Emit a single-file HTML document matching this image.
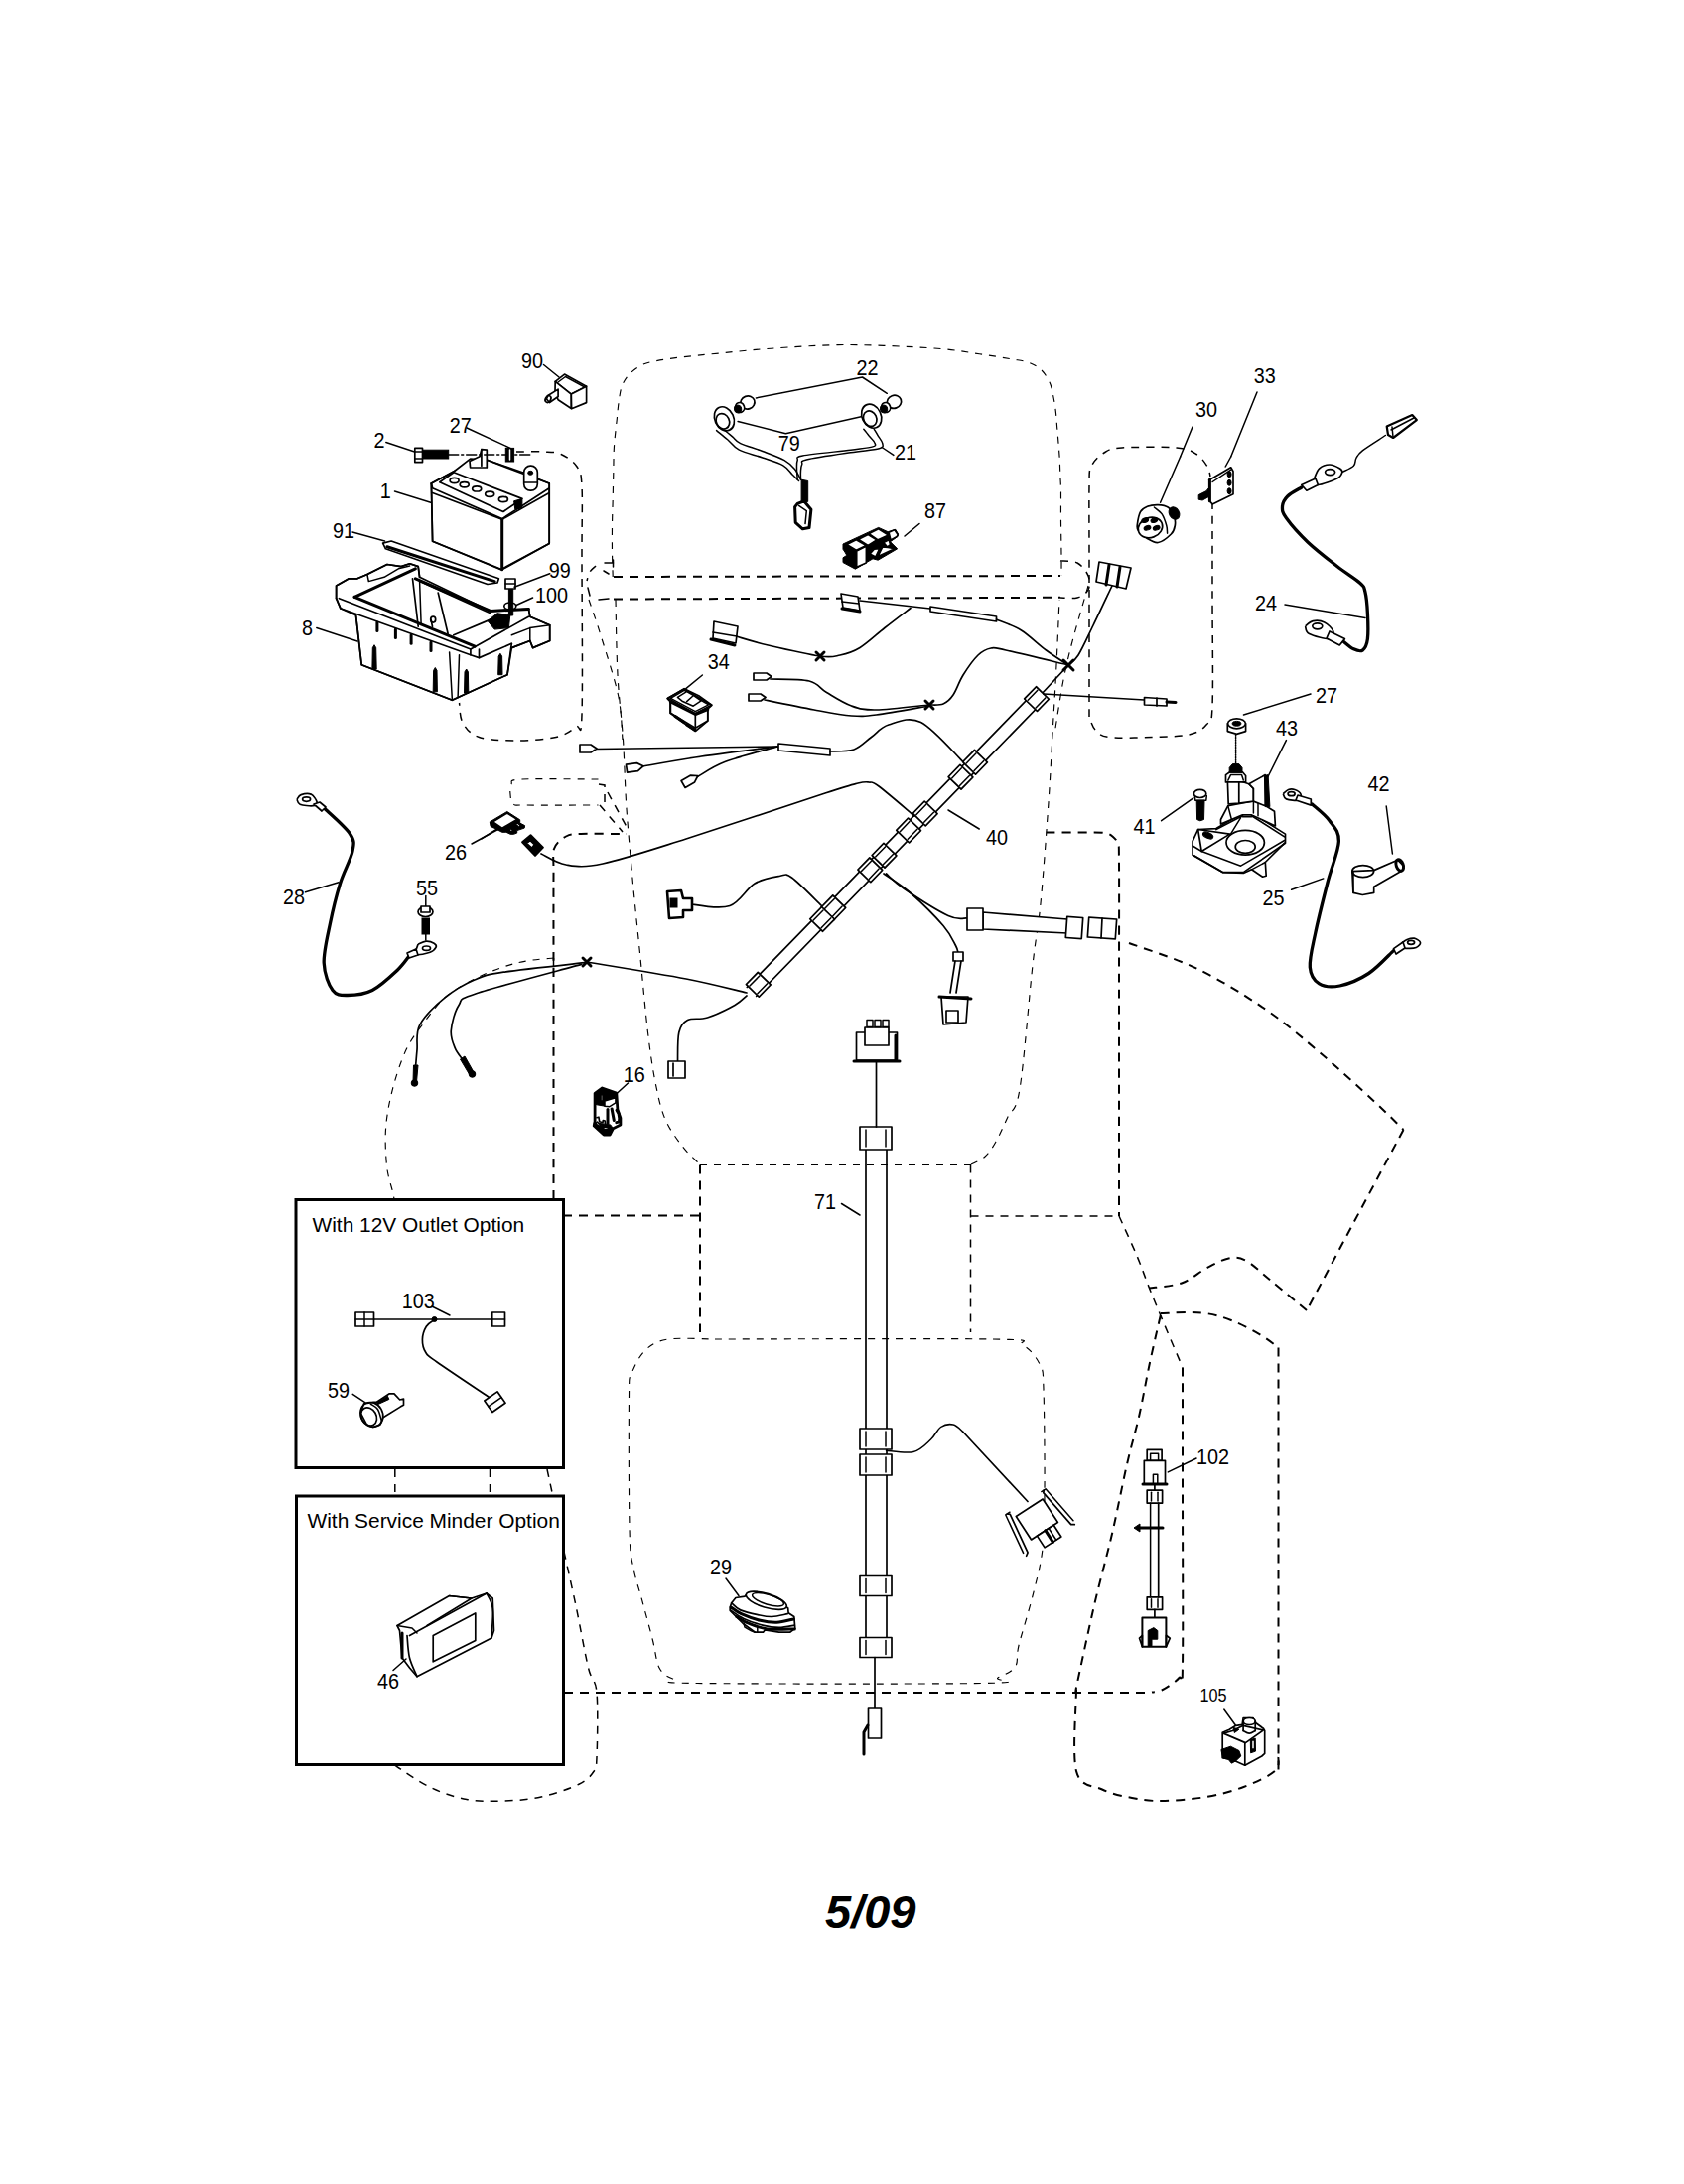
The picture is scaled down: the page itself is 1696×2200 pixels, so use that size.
<!DOCTYPE html>
<html><head><meta charset="utf-8"><style>
html,body{margin:0;padding:0;background:#fff;}
body{width:1696px;height:2200px;overflow:hidden;}
svg{display:block;}
.l{fill:none;stroke:#000;stroke-width:1.7;stroke-linejoin:round;stroke-linecap:round;}
.lt{fill:none;stroke:#000;stroke-width:1.5;stroke-linejoin:round;stroke-linecap:round;}
.lk{fill:none;stroke:#000;stroke-width:3;stroke-linejoin:round;stroke-linecap:round;}
.lc{fill:none;stroke:#000;stroke-width:3.3;stroke-linejoin:round;stroke-linecap:round;}
.w{fill:#fff;stroke:#000;stroke-width:1.7;stroke-linejoin:round;}
.wt{fill:#fff;stroke:#000;stroke-width:1.5;stroke-linejoin:round;}
.f{fill:#000;stroke:#000;stroke-width:1;}
.d{fill:none;stroke:#000;stroke-width:1.5;stroke-dasharray:8 7;}
.dt{fill:none;stroke:#000;stroke-width:1.15;stroke-dasharray:7 7;}
.dk{fill:none;stroke:#000;stroke-width:2;stroke-dasharray:9 7;}
.bx{fill:none;stroke:#000;stroke-width:3;}
.t{font-family:"Liberation Sans",sans-serif;font-size:22px;fill:#000;}
.ts{font-family:"Liberation Sans",sans-serif;font-size:18px;fill:#000;}
.tb{font-family:"Liberation Sans",sans-serif;font-size:20.9px;fill:#000;}
.big{font-family:"Liberation Sans",sans-serif;font-size:47px;font-weight:bold;font-style:italic;fill:#000;}
</style></head><body>
<svg width="1696" height="2200" viewBox="0 0 1696 2200">
<text class="t" transform="translate(525,370.5) scale(0.9,1)">90</text>
<text class="t" transform="translate(862.5,378) scale(0.9,1)">22</text>
<text class="t" transform="translate(1262.8,385.5) scale(0.9,1)">33</text>
<text class="t" transform="translate(1204,419.5) scale(0.9,1)">30</text>
<text class="t" transform="translate(376.5,450.5) scale(0.9,1)">2</text>
<text class="t" transform="translate(452.8,435.5) scale(0.9,1)">27</text>
<text class="t" transform="translate(783.8,454.2) scale(0.9,1)">79</text>
<text class="t" transform="translate(901,463) scale(0.9,1)">21</text>
<text class="t" transform="translate(382.8,501.8) scale(0.9,1)">1</text>
<text class="t" transform="translate(335,541.5) scale(0.9,1)">91</text>
<text class="t" transform="translate(931,521.5) scale(0.9,1)">87</text>
<text class="t" transform="translate(552.8,581.5) scale(0.9,1)">99</text>
<text class="t" transform="translate(539,606.5) scale(0.9,1)">100</text>
<text class="t" transform="translate(1264,614.5) scale(0.9,1)">24</text>
<text class="t" transform="translate(304,639.5) scale(0.9,1)">8</text>
<text class="t" transform="translate(712.8,674.2) scale(0.9,1)">34</text>
<text class="t" transform="translate(1325,708) scale(0.9,1)">27</text>
<text class="t" transform="translate(1285,740.5) scale(0.9,1)">43</text>
<text class="t" transform="translate(1377.5,797) scale(0.9,1)">42</text>
<text class="t" transform="translate(1141.6,839.6) scale(0.9,1)">41</text>
<text class="t" transform="translate(993,850.5) scale(0.9,1)">40</text>
<text class="t" transform="translate(448,865.5) scale(0.9,1)">26</text>
<text class="t" transform="translate(419,901.5) scale(0.9,1)">55</text>
<text class="t" transform="translate(285,910.5) scale(0.9,1)">28</text>
<text class="t" transform="translate(1271.5,911.5) scale(0.9,1)">25</text>
<text class="t" transform="translate(627.8,1089.5) scale(0.9,1)">16</text>
<text class="t" transform="translate(820,1218) scale(0.9,1)">71</text>
<text class="t" transform="translate(404.7,1318.2) scale(0.9,1)">103</text>
<text class="t" transform="translate(330,1407.5) scale(0.9,1)">59</text>
<text class="t" transform="translate(1205,1474.5) scale(0.9,1)">102</text>
<text class="t" transform="translate(715,1585.5) scale(0.9,1)">29</text>
<text class="t" transform="translate(380,1700.5) scale(0.9,1)">46</text>
<text class="ts" transform="translate(1208.5,1714) scale(0.9,1)">105</text>
<text class="tb" x="314.5" y="1241">With 12V Outlet Option</text>
<text class="tb" x="309.5" y="1538.5">With Service Minder Option</text>
<text class="big" x="831" y="1941.5">5/09</text>
<rect class="bx" x="298" y="1208.5" width="269.5" height="270"/>
<rect class="bx" x="298.5" y="1507" width="269" height="270.5"/>
<path class="dt" d="M617.2,581 C617.1,576.8 616.6,564.4 616.5,555.8 C616.4,547.2 616.4,538.1 616.5,529.2 C616.6,520.3 617,511.5 617.2,502.6 C617.4,493.7 617.6,484.9 617.8,476 C618,467.1 617.9,458.3 618.5,449.5 C619.1,440.7 620.4,430.5 621.2,423 C622,415.5 622.3,410.2 623.2,404.4 C624.1,398.6 624.6,393 626.5,388.4 C628.4,383.8 631.1,379.9 634.4,376.5 C637.7,373.1 642.2,369.9 646.4,367.8 C650.6,365.7 653.1,365.2 659.7,363.9 C666.3,362.6 675.2,361.2 686.2,359.9 C697.2,358.6 711,357.3 726,355.9 C741,354.4 755.2,352.6 776.5,351.2 C797.8,349.8 826.1,347.5 853.5,347.5 C880.9,347.5 918.9,349.5 941,351 C963.1,352.5 973.5,354.9 986.4,356.7 C999.3,358.5 1010.4,360.4 1018.5,361.8 C1026.6,363.2 1030.1,363.3 1035,365 C1039.9,366.7 1044.3,368.7 1048,372 C1051.7,375.3 1054.9,380.5 1057,385 C1059.1,389.5 1059.8,394.1 1060.8,399 C1061.8,403.9 1062.7,409.3 1063.3,414.4 C1063.9,419.5 1064.2,424.6 1064.6,429.7 C1065,434.8 1065.5,439.6 1065.9,445 C1066.3,450.4 1066.9,456.2 1067.2,461.8 C1067.5,467.4 1067.6,473.2 1067.8,478.5 C1068,483.8 1068.4,486.3 1068.5,493.8 C1068.6,501.3 1068.4,512.6 1068.5,523.3 C1068.6,534 1068.9,548.5 1069,558 C1069.1,567.5 1069,576.3 1069,580"/>
<line class="dk" x1="618" y1="581" x2="1068" y2="580"/>
<line class="dk" x1="618" y1="603.5" x2="1068" y2="601.8"/>
<polyline class="lt" points="609,567 617.5,567"/>
<line class="lt" x1="617.5" y1="564" x2="617.5" y2="571"/>
<path class="d" d="M600,570 C599,571 595.5,573.5 594,576 C592.5,578.5 591.5,583.5 591,585"/>
<line class="lt" x1="608" y1="575" x2="613" y2="578"/>
<line class="lt" x1="592" y1="592" x2="594" y2="600"/>
<line class="lt" x1="603" y1="604" x2="613" y2="603"/>
<path class="d" d="M1068,565 C1070.8,565.3 1080.3,564.5 1085,567 C1089.7,569.5 1094.2,575.5 1096,580 C1097.8,584.5 1097.8,590.3 1096,594 C1094.2,597.7 1089.7,600.7 1085,602 C1080.3,603.3 1070.8,602 1068,602"/>
<path class="dt" d="M620,604 C620.3,616.7 620.8,656.5 622,680 C623.2,703.5 626,722.5 627.5,745 C629,767.5 629.3,790.8 631,815 C632.7,839.2 635.2,865 637.5,890 C639.8,915 642.5,940 645,965 C647.5,990 650,1019.2 652.5,1040 C655,1060.8 657.1,1075.4 660,1090 C662.9,1104.6 665.4,1116.7 670,1127.5 C674.6,1138.3 681.7,1147.4 687.5,1155 C693.3,1162.6 702.1,1170 705,1173"/>
<path class="dt" d="M593,604 C595,610 600.1,624 605,640 C609.9,656 618.8,682.5 622.5,700 C626.2,717.5 626.2,737.5 627,745"/>
<line class="dt" x1="705" y1="1173.5" x2="978" y2="1173.5"/>
<path class="dt" d="M978,1173 C980.3,1171.7 987.8,1168.8 992,1165 C996.2,1161.2 999.2,1156.7 1003,1150 C1006.8,1143.3 1011,1133.8 1015,1125 C1019,1116.2 1022.8,1122.5 1027,1097 C1031.2,1071.5 1036.5,1003.2 1040,972 C1043.5,940.8 1045.3,937.3 1048,910 C1050.7,882.7 1054,836.3 1056,808 C1058,779.7 1058.8,761.3 1060,740 C1061.2,718.7 1062.3,702.7 1063.5,680 C1064.7,657.3 1066.4,616.7 1067,604"/>
<path class="dt" d="M1096,590 C1093.5,598.8 1085.2,626.7 1081,642.5 C1076.8,658.3 1074.2,668.8 1071,685 C1067.8,701.2 1063.5,730.8 1062,740"/>
<path class="d" d="M520,455 C524.5,455 539.5,454.6 547,455 C554.5,455.4 559.3,455 565,457.5 C570.7,460 577.5,464.6 581,470 C584.5,475.4 585.2,475 586,490 C586.8,505 586,521.7 586,560 C586,598.3 587,691.3 586,720 C585,748.7 584.3,728.2 580,732 C575.7,735.8 570,740.2 560,742.5 C550,744.8 532.9,746 520,746 C507.1,746 491.5,745.5 482.5,742.5 C473.5,739.5 469.3,733.8 466,728 C462.7,722.2 463.1,711.3 462.5,708"/>
<path class="d" d="M1097,722 C1097,695 1097,598.7 1097,560 C1097,521.3 1096.7,505 1097,490 C1097.3,475 1096.5,475.7 1099,470 C1101.5,464.3 1106.8,459.2 1112,456 C1117.2,452.8 1117.8,451.8 1130,451 C1142.2,450.2 1172.5,449.9 1185,451 C1197.5,452.1 1199.8,454.3 1205,457.5 C1210.2,460.7 1213.7,466.2 1216,470 C1218.3,473.8 1218.5,478.3 1219,480"/>
<path class="d" d="M1221,505 C1221,520.8 1221,565.5 1221,600 C1221,634.5 1222,690.3 1221,712 C1220,733.7 1218.9,725.3 1215,730 C1211.1,734.7 1206.7,737.9 1197.5,740 C1188.3,742.1 1173.4,742.1 1160,742.5 C1146.6,742.9 1126.5,743.8 1117,742.5 C1107.5,741.2 1106.3,738.4 1103,735 C1099.7,731.6 1098,724.2 1097,722"/>
<path class="dk" d="M557.5,1208 C557.5,1173.3 557.5,1054.7 557.5,1000 C557.5,945.3 557.4,904.2 557.5,880 C557.6,855.8 555.9,861.2 558,855 C560.1,848.8 565.5,845 570,842.5 C574.5,840 574.8,840.4 585,840 C595.2,839.6 623.3,840 631,840"/>
<path class="dk" d="M1053.6,838.5 C1059.7,838.5 1080.3,838.4 1090,838.5 C1099.7,838.6 1106.8,838.2 1112,839 C1117.2,839.8 1118.7,841 1121,843 C1123.3,845 1125,846.5 1126,851 C1127,855.5 1126.8,845.2 1127,870 C1127.2,894.8 1127,940.8 1127,1000 C1127,1059.2 1127,1187.5 1127,1225"/>
<line class="d" x1="977.5" y1="1225" x2="1127" y2="1225"/>
<line class="dk" x1="567" y1="1224.5" x2="705" y2="1224.5"/>
<path class="dt" d="M602.5,785 C589.6,785 539.6,784.2 525,785 C510.4,785.8 516.8,787.5 515,790 C513.2,792.5 513.7,796.7 514,800 C514.3,803.3 514.3,808.2 517,810 C519.7,811.8 515.8,810.8 530,811 C544.2,811.2 590.4,811 602.5,811"/>
<polyline class="d" points="603,790 609,791 609,809"/>
<line class="d" x1="612" y1="798" x2="633" y2="836.5"/>
<line class="d" x1="604" y1="811" x2="627" y2="838"/>
<path class="dt" d="M557.5,965 C552.9,965.5 538.4,966.5 530,968 C521.6,969.5 515.7,971 507,974 C498.3,977 487.7,981 478,986 C468.3,991 457.5,996.7 449,1004 C440.5,1011.3 433.7,1021.1 427,1030 C420.3,1038.9 414.2,1046.5 409,1057.6 C403.8,1068.7 398.9,1083.7 395.5,1096.8 C392.1,1109.9 389.6,1123 388.6,1136 C387.6,1149 388.5,1164.2 389.6,1175 C390.8,1185.8 394.3,1195.1 395.5,1200.6 C396.7,1206.1 396.8,1206.8 397,1208"/>
<line class="d" x1="557.5" y1="965" x2="557.5" y2="974"/>
<line class="d" x1="397.8" y1="1480" x2="397.8" y2="1507"/>
<line class="d" x1="493.5" y1="1480" x2="493.5" y2="1507"/>
<line class="d" x1="551" y1="1480" x2="556.8" y2="1507"/>
<path class="d" d="M568,1563 C570,1572.1 575.9,1598 580,1617.5 C584.1,1637 589,1665.4 592.5,1680 C596,1694.6 599.6,1690 601,1705 C602.4,1720 601.6,1756.7 601,1770 C600.4,1783.3 600.6,1780.4 597.5,1785 C594.4,1789.6 591.2,1793.3 582.5,1797.5 C573.8,1801.7 557.5,1807.2 545,1810 C532.5,1812.8 520,1813.6 507.5,1814 C495,1814.4 482.5,1814.8 470,1812.5 C457.5,1810.2 444.6,1805.8 432.5,1800 C420.4,1794.2 403.3,1781.7 397.5,1778"/>
<line class="dk" x1="568" y1="1705" x2="1160" y2="1705"/>
<path class="dt" d="M720,1349 C766.7,1349 948.3,1348 1000,1349 C1051.7,1350 1022.1,1350.7 1030,1355 C1037.9,1359.3 1044,1367.5 1047.5,1375 C1051,1382.5 1050.2,1379.2 1051,1400 C1051.8,1420.8 1052.2,1473.3 1052,1500 C1051.8,1526.7 1052,1542.1 1050,1560 C1048,1577.9 1044,1591.2 1040,1607.5 C1036,1623.8 1028.9,1645.6 1026,1657.5 C1023.1,1669.4 1026,1673.6 1022.5,1679 C1019,1684.4 1010.4,1687.2 1005,1690 C999.6,1692.8 1040.4,1694.6 990,1695.5 C939.6,1696.4 754.6,1696.2 702.5,1695.5 C650.4,1694.8 683.9,1693.6 677.5,1691 C671.1,1688.4 667.3,1686.4 664,1680 C660.7,1673.6 660.2,1663.3 657.5,1652.5 C654.8,1641.7 650.8,1627.5 647.5,1615 C644.2,1602.5 639.8,1590 637.5,1577.5 C635.2,1565 634.7,1568.4 634,1540 C633.3,1511.6 633.2,1433 633.5,1407 C633.8,1381 633.2,1391.8 636,1384 C638.8,1376.2 643.8,1365.8 650,1360 C656.2,1354.2 661.3,1350.8 673,1349 C684.7,1347.2 712.2,1349 720,1349"/>
<line class="dk" x1="705" y1="1173.5" x2="705" y2="1342"/>
<line class="d" x1="977.5" y1="1173.5" x2="977.5" y2="1342"/>
<path class="dk" d="M1137,950 C1148.5,954.3 1183,964.8 1206,976 C1229,987.2 1254.3,1002.8 1275,1017 C1295.7,1031.2 1311.7,1045.5 1330,1061 C1348.3,1076.5 1370.7,1097.2 1384.6,1110 C1398.5,1122.8 1408.7,1133.3 1413.5,1138"/>
<polyline class="dk" points="1413.5,1138 1316,1320"/>
<path class="dk" d="M1316,1320 C1310,1315 1290.2,1298.3 1280,1290 C1269.8,1281.7 1262.1,1273.8 1255,1270 C1247.9,1266.2 1244.2,1266.2 1237.5,1267.5 C1230.8,1268.8 1222.9,1273.3 1215,1277.5 C1207.1,1281.7 1199.6,1289.2 1190,1292.5 C1180.4,1295.8 1162.9,1296.7 1157.5,1297.5"/>
<path class="d" d="M1127,1225 C1130,1231.7 1139.9,1252.9 1145,1265 C1150.1,1277.1 1153.5,1287.5 1157.5,1297.5 C1161.5,1307.5 1163.2,1311.7 1168.8,1325 C1174.3,1338.3 1187.3,1368.8 1191,1377.5"/>
<path class="dk" d="M1191,1377.5 C1191,1397.9 1191,1450 1191,1500 C1191,1550 1191.6,1645.8 1191,1677.5 C1190.4,1709.2 1191,1685.8 1187.5,1690 C1184,1694.2 1174.6,1700.1 1170,1702.5 C1165.4,1704.9 1161.7,1704.2 1160,1704.5"/>
<path class="dk" d="M1168.8,1323 C1175.6,1322.9 1198.1,1321.3 1210,1322.5 C1221.9,1323.7 1230,1326.2 1240,1330 C1250,1333.8 1262.1,1340.4 1270,1345 C1277.9,1349.6 1284.6,1355.4 1287.5,1357.5"/>
<line class="dk" x1="1287.5" y1="1357.5" x2="1287.5" y2="1784"/>
<path class="dk" d="M1168.8,1325 C1166.9,1333.3 1161,1358.3 1157.5,1375 C1154,1391.7 1151.2,1408.3 1147.5,1425 C1143.8,1441.7 1139.6,1455 1135,1475 C1130.4,1495 1125.4,1521.7 1120,1545 C1114.6,1568.3 1108.3,1590 1102.5,1615 C1096.7,1640 1088.1,1680.5 1085,1695 C1081.9,1709.5 1084.2,1700.8 1084,1702"/>
<path class="dk" d="M1084,1702 C1084,1715.7 1079.7,1767.2 1084,1784 C1088.3,1800.8 1100.7,1798 1110,1802.5 C1119.3,1807 1130,1809.1 1140,1811 C1150,1812.9 1157.5,1814.2 1170,1814 C1182.5,1813.8 1201.2,1812.3 1215,1810 C1228.8,1807.7 1241,1804.3 1252.5,1800 C1264,1795.7 1278.2,1789 1284,1784 C1289.8,1779 1286.9,1772.3 1287.5,1770"/>
<line class="l" x1="1043.3" y1="695.5" x2="752.3" y2="994.5"/>
<line class="l" x1="1052.7" y1="704.5" x2="761.7" y2="1003.5"/>
<line class="l" x1="1076" y1="670" x2="1048" y2="700"/>
<rect class="w" x="1035.5" y="695.1" width="17" height="18" transform="rotate(134.2 1044 704.1)"/>
<line class="lt" x1="1044.9" y1="695.3" x2="1035.2" y2="705.3"/>
<line class="lt" x1="1052.8" y1="702.9" x2="1043.1" y2="713"/>
<rect class="w" x="973.5" y="758.8" width="17" height="18" transform="rotate(134.2 982 767.8)"/>
<line class="lt" x1="982.9" y1="758.9" x2="973.2" y2="769"/>
<line class="lt" x1="990.8" y1="766.6" x2="981" y2="776.6"/>
<rect class="w" x="959" y="773.7" width="17" height="18" transform="rotate(134.2 967.5 782.7)"/>
<line class="lt" x1="968.4" y1="773.8" x2="958.7" y2="783.9"/>
<line class="lt" x1="976.3" y1="781.5" x2="966.5" y2="791.5"/>
<rect class="w" x="923.2" y="810.5" width="17" height="18" transform="rotate(134.2 931.7 819.5)"/>
<line class="lt" x1="932.6" y1="810.6" x2="922.8" y2="820.7"/>
<line class="lt" x1="940.5" y1="818.3" x2="930.7" y2="828.3"/>
<rect class="w" x="906.6" y="827.5" width="17" height="18" transform="rotate(134.2 915.1 836.5)"/>
<line class="lt" x1="916" y1="827.6" x2="906.3" y2="837.7"/>
<line class="lt" x1="923.9" y1="835.3" x2="914.2" y2="845.3"/>
<rect class="w" x="882" y="852.7" width="17" height="18" transform="rotate(134.2 890.5 861.7)"/>
<line class="lt" x1="891.5" y1="852.9" x2="881.7" y2="862.9"/>
<line class="lt" x1="899.4" y1="860.5" x2="889.6" y2="870.6"/>
<rect class="w" x="867.8" y="867.3" width="17" height="18" transform="rotate(134.2 876.3 876.3)"/>
<line class="lt" x1="877.3" y1="867.5" x2="867.5" y2="877.5"/>
<line class="lt" x1="885.1" y1="875.1" x2="875.4" y2="885.2"/>
<rect class="w" x="830.8" y="905.3" width="17" height="18" transform="rotate(134.2 839.3 914.3)"/>
<line class="lt" x1="840.3" y1="905.5" x2="830.5" y2="915.5"/>
<line class="lt" x1="848.1" y1="913.1" x2="838.4" y2="923.2"/>
<rect class="w" x="819.6" y="916.9" width="17" height="18" transform="rotate(134.2 828.1 925.9)"/>
<line class="lt" x1="829" y1="917" x2="819.2" y2="927.1"/>
<line class="lt" x1="836.9" y1="924.7" x2="827.1" y2="934.7"/>
<rect class="w" x="755.3" y="982.8" width="17" height="18" transform="rotate(134.2 763.8 991.8)"/>
<line class="lt" x1="764.8" y1="983" x2="755" y2="993"/>
<line class="lt" x1="772.7" y1="990.7" x2="762.9" y2="1000.7"/>
<line class="l" x1="872" y1="1158" x2="872" y2="1650"/>
<line class="l" x1="893" y1="1158" x2="893" y2="1650"/>
<rect class="w" x="866" y="1135" width="32" height="23"/>
<line class="lt" x1="872" y1="1138" x2="872" y2="1155"/>
<line class="lt" x1="892" y1="1138" x2="892" y2="1155"/>
<rect class="w" x="866" y="1439" width="32" height="21"/>
<line class="lt" x1="872" y1="1442" x2="872" y2="1457"/>
<line class="lt" x1="892" y1="1442" x2="892" y2="1457"/>
<rect class="w" x="866" y="1465" width="32" height="21"/>
<line class="lt" x1="872" y1="1468" x2="872" y2="1483"/>
<line class="lt" x1="892" y1="1468" x2="892" y2="1483"/>
<rect class="w" x="866" y="1587.5" width="32" height="20"/>
<line class="lt" x1="872" y1="1590.5" x2="872" y2="1604.5"/>
<line class="lt" x1="892" y1="1590.5" x2="892" y2="1604.5"/>
<rect class="w" x="866" y="1649.5" width="32" height="20"/>
<line class="lt" x1="872" y1="1652.5" x2="872" y2="1666.5"/>
<line class="lt" x1="892" y1="1652.5" x2="892" y2="1666.5"/>
<line class="l" x1="882.5" y1="1070" x2="882.5" y2="1135"/>
<line class="l" x1="881" y1="1669.5" x2="881" y2="1721"/>
<rect class="w" x="874.5" y="1721" width="13" height="30"/>
<polyline class="lk" points="874,1738 870,1745 870,1767"/>
<polygon class="w" points="862.5,1040 903.5,1040 903.5,1068 862.5,1068"/>
<rect class="w" x="871" y="1035" width="24" height="18"/>
<rect class="wt" x="873" y="1027.5" width="6" height="7"/>
<rect class="wt" x="881" y="1027.5" width="6" height="7"/>
<rect class="wt" x="889" y="1027.5" width="6" height="7"/>
<line class="lk" x1="860" y1="1069" x2="906" y2="1069"/>
<line class="lk" x1="902" y1="1043" x2="902" y2="1068"/>
<path class="l" d="M545,860 C549.2,861.8 559.7,869.3 570,871 C580.3,872.7 586.8,874.3 607,870 C627.2,865.7 653.7,856.8 691,845 C728.3,833.2 802.2,808.3 831,799 C859.8,789.7 856.7,790.8 864,789 C871.3,787.2 871.5,787.5 875,788 C878.5,788.5 877.3,786.3 885,792 C892.7,797.7 915,817 921,822"/>
<line class="l" x1="601" y1="754.5" x2="783" y2="752"/>
<path class="l" d="M645,772.5 C654.2,770.9 677,766.4 700,763 C723,759.6 769.2,753.8 783,752"/>
<path class="l" d="M702.5,782.5 C707.1,780 716.6,772.6 730,767.5 C743.4,762.4 774.2,754.6 783,752"/>
<polygon class="w" points="784,749 836,754 836,761 784,756"/>
<path class="l" d="M836,757 C840,756.7 853.1,757.4 860,755 C866.9,752.6 871.7,746.7 877.5,742.5 C883.3,738.3 886.7,732.5 895,730 C903.3,727.5 915,721.2 927.5,727.5 C940,733.8 962.9,760.8 970,767.5"/>
<polygon class="w" points="584,750 595,750 601,754 595,758 584,758" transform="rotate(0 592 754)"/>
<polygon class="w" points="631,769 642,769 648,773 642,777 631,777" transform="rotate(-8 639 773)"/>
<polygon class="w" points="687,782 698,782 704,786 698,790 687,790" transform="rotate(-30 695 786)"/>
<polygon class="w" points="847,598 864,601 866,615 849,612"/>
<line class="l" x1="848" y1="606" x2="865" y2="608"/>
<line class="lk" x1="848" y1="613" x2="866" y2="616"/>
<line class="l" x1="866" y1="605" x2="937" y2="613"/>
<polygon class="w" points="937,611 1003.5,621 1003.5,626 937,616"/>
<path class="l" d="M1003.5,624 C1007.7,625.8 1020.2,629.8 1028.5,635 C1036.8,640.2 1045.6,649.2 1053.5,655 C1061.4,660.8 1072.2,667.5 1076,670"/>
<path class="l" d="M917,612.5 C912.7,615.8 899.5,625.8 891,632.5 C882.5,639.2 873.5,647.9 866,652.5 C858.5,657.1 852.7,658.6 846,660 C839.3,661.4 838.1,662.7 826,661 C813.9,659.3 787.7,653.3 773.5,650 C759.3,646.7 746.4,642.5 741,641"/>
<polygon class="w" points="719,626 743,631 741,648 718,643"/>
<line class="l" x1="718" y1="637" x2="742" y2="641"/>
<line class="lk" x1="716" y1="644" x2="740" y2="650"/>
<line class="lk" x1="822" y1="657" x2="830" y2="665"/>
<line class="lk" x1="822" y1="665" x2="830" y2="657"/>
<line class="lk" x1="932" y1="706" x2="940" y2="714"/>
<line class="lk" x1="932" y1="714" x2="940" y2="706"/>
<line class="lk" x1="1071" y1="665" x2="1081" y2="675"/>
<line class="lk" x1="1071" y1="675" x2="1081" y2="665"/>
<line class="lk" x1="587" y1="965" x2="595" y2="973"/>
<line class="lk" x1="587" y1="973" x2="595" y2="965"/>
<path class="l" d="M1076,670 C1065.5,667.5 1026,657.8 1013,655 C1000,652.2 1002.7,652.2 998,653 C993.3,653.8 989.7,655.5 985,660 C980.3,664.5 974.2,673.3 970,680 C965.8,686.7 963.3,695.2 960,700 C956.7,704.8 954,707.3 950,709 C946,710.7 938.3,709.8 936,710"/>
<path class="l" d="M936,710 C927.1,710.8 895.6,714.8 882.5,715 C869.4,715.2 865.8,713.9 857.5,711 C849.2,708.1 839.6,701.7 832.5,697.5 C825.4,693.3 824.4,688.2 815,686 C805.6,683.8 782.5,684.3 776,684"/>
<path class="l" d="M936,711 C927.1,712.5 895.6,718.3 882.5,720 C869.4,721.7 867.9,721.8 857.5,721 C847.1,720.2 834.6,717.7 820,715 C805.4,712.3 778.3,706.7 770,705"/>
<polygon class="w" points="759,678 772,678 777,681.5 772,685 759,685"/>
<polygon class="w" points="754,699 766,699 771,702.5 766,706 754,706"/>
<path class="l" d="M1076,670 C1077.7,668.3 1081.8,666.7 1086,660 C1090.2,653.3 1095.3,641.7 1101,630 C1106.7,618.3 1116.8,596.7 1120,590"/>
<polygon class="w" points="1107,566 1139,572 1134,593 1104,586"/>
<line class="lk" x1="1117" y1="569" x2="1114" y2="589"/>
<line class="lk" x1="1128" y1="571" x2="1125" y2="591"/>
<line class="l" x1="1051" y1="699" x2="1152.5" y2="705"/>
<polygon class="w" points="1152.5,702.5 1175,704 1175,711 1152.5,710"/>
<line class="l" x1="1165" y1="703" x2="1165" y2="711"/>
<line class="lk" x1="1175" y1="707" x2="1184" y2="707.5"/>
<path class="l" d="M591,969 C607.7,971.8 664.2,980.8 691,986 C717.8,991.2 741.8,997.7 752,1000"/>
<path class="l" d="M591.4,969.4 C577.4,971 526.1,976.3 507.2,979.2 C488.3,982.1 487.6,982.8 477.8,987 C468,991.2 457.5,997.2 448.4,1004.7 C439.2,1012.2 427.6,1023.3 422.9,1032.1 C418.2,1040.9 420.7,1050.4 420,1057.6 C419.3,1064.8 418.8,1072.1 418.5,1075"/>
<path class="l" d="M585.6,971.4 C568,976.3 500.3,993.9 479.7,1000.7 C459.1,1007.6 466.3,1006.3 462.1,1012.5 C457.9,1018.7 455,1030.8 454.3,1038 C453.6,1045.2 456.2,1050.7 458.2,1055.6 C460.1,1060.5 464.7,1065.4 466,1067.4"/>
<polygon class="f" points="416.5,1073 421,1073 419.5,1090 416,1090"/>
<ellipse class="f" cx="417.5" cy="1091" rx="3.3" ry="3.3"/>
<polygon class="f" points="463.5,1067 468,1064 477,1080 473,1083"/>
<ellipse class="f" cx="475.5" cy="1082" rx="3.3" ry="3.3"/>
<path class="l" d="M752,1003 C750,1004.6 746.6,1008.8 740,1012.5 C733.4,1016.2 720.4,1022.5 712.5,1025 C704.6,1027.5 697.3,1025 692.5,1027.5 C687.7,1030 685.4,1032.9 683.8,1040 C682.1,1047.1 682.7,1065 682.5,1070"/>
<rect class="w" x="673" y="1069" width="17" height="17"/>
<line class="l" x1="678" y1="1071" x2="678" y2="1084"/>
<path class="l" d="M691,905 C692.1,906 690.2,909.8 697.5,911 C704.8,912.2 724.6,916 735,912.5 C745.4,909 751.7,895 760,890 C768.3,885 778.8,883.5 785,882.5 C791.2,881.5 790.4,879 797.5,884 C804.6,889 822.5,907.8 827.5,912.5"/>
<polygon class="w" points="672,898 686,897 688,905 697,905 697,917 688,917 688,924 674,925" style="stroke-width:2.6"/>
<rect class="f" x="675" y="905" width="7" height="9"/>
<path class="l" d="M892.5,880 C895.4,882.5 899.6,887.9 910,895 C920.4,902.1 944.4,917.5 955,922.5 C965.6,927.5 970.6,924.6 973.8,925"/>
<polygon class="w" points="990,919 1075,926 1075,940 990,936"/>
<rect class="w" x="974" y="915" width="16" height="22"/>
<rect class="w" x="1074" y="924" width="16" height="21" transform="rotate(4 1082 934.5)"/>
<rect class="w" x="1096" y="925" width="28" height="20" transform="rotate(4 1110 935)"/>
<line class="l" x1="1110" y1="925" x2="1109" y2="945"/>
<path class="l" d="M890,880 C894.6,883.3 907.5,891.2 917.5,900 C927.5,908.8 942.5,923.8 950,932.5 C957.5,941.2 960,947.9 962.5,952.5 C965,957.1 964.6,958.8 965,960"/>
<rect class="w" x="960" y="959" width="10" height="9"/>
<polyline class="l" points="962,968 957,1000"/>
<polyline class="l" points="968,968 963,1000"/>
<polygon class="w" points="948,1004 975,1004 973,1030 950,1032"/>
<rect class="w" x="953" y="1018" width="12" height="12"/>
<line class="lk" x1="946" y1="1004" x2="978" y2="1006"/>
<polygon class="w" points="338.6,589.9 351.4,582.8 359.9,582.8 369.9,578.5 389.9,568.5 404.1,570.6 412.7,567.8 421.2,570.6 422.6,581.3 493.9,615.5 532.4,613.4 533.8,621.2 553.7,629.8 553.7,645.5 536.6,652.6 533.8,645.5 515.3,652.6 511,679.7 455.4,705.3 364.2,669.7 358.5,619.8 342.8,612.7 338.6,602.7"/>
<polyline class="l" points="338.6,602.7 338.6,589.9 351.4,582.8 359.9,582.8 369.9,578.5 389.9,568.5 404.1,570.6 412.7,567.8 421.2,570.6 422.6,581.3"/>
<polyline class="lt" points="369.9,578.5 371.3,585.6 387,581.3 401.3,572.8 412.7,569.9"/>
<polyline class="lk" points="418.4,582.8 493.9,615.5 532.4,613.4"/>
<polyline class="lt" points="422.6,585.6 493.9,617.7"/>
<polyline class="l" points="341.4,602.7 473.9,654 532.4,621.2"/>
<polyline class="l" points="342.8,612.7 473.9,659.7 482.5,662.6 515.3,648.3"/>
<polyline class="l" points="338.6,602.7 342.8,612.7"/>
<polyline class="l" points="473.9,654 473.9,659.7"/>
<polyline class="l" points="482.5,654 482.5,662.6"/>
<polyline class="l" points="532.4,613.4 533.8,621.2 553.7,629.8 553.7,645.5 536.6,652.6 533.8,645.5 515.3,652.6"/>
<polyline class="lt" points="515.3,639.8 533.8,632.6 553.7,629.8"/>
<polyline class="lt" points="533.8,632.6 533.8,645.5"/>
<polyline class="l" points="358.5,619.8 364.2,669.7 455.4,705.3 511,679.7 515.3,648.3"/>
<polyline class="lt" points="452.6,656.9 455.4,705.3"/>
<polyline class="lt" points="462.5,659.7 461.1,702.5"/>
<polyline class="lk" points="357.1,601.3 418.4,572.8"/>
<polyline class="lk" points="357.1,601.3 478.2,651.2"/>
<polyline class="l" points="415.5,582.8 421.2,631.2"/>
<polyline class="lt" points="422.6,585.6 424.1,628.4"/>
<polyline class="l" points="441.2,597 451.1,638.3"/>
<polyline class="l" points="456.8,639.8 493.9,624.1"/>
<polygon class="f" points="374.9,674 375.3,652.6 377,649.7 378.7,652.6 379.2,674"/>
<polygon class="f" points="436.2,696.8 436.6,675.4 438.3,672.5 440,675.4 440.4,696.8"/>
<polygon class="f" points="467.5,698.2 468,676.8 469.7,674 471.4,676.8 471.8,698.2"/>
<polygon class="f" points="501.7,679.7 502.2,661.1 503.9,658.3 505.6,661.1 506,679.7"/>
<polyline class="lk" points="379.9,626.9 379.9,635.5"/>
<polyline class="lk" points="398.4,634.1 398.4,642.6"/>
<polyline class="lk" points="414.1,639.8 414.1,648.3"/>
<polyline class="lk" points="434,646.9 434,655.4"/>
<polygon class="f" points="491,625.5 501,617.7 513.8,619.8 512.4,632.6 498.2,634.1"/>
<polyline class="l" points="434,624.1 435.5,631.2"/>
<ellipse class="l" cx="436.2" cy="624.1" rx="2.5" ry="3"/>
<polygon class="w" points="385.6,547.1 394.1,545 502.4,582.8 501,587 491,588.5 388.4,552.8"/>
<polyline class="lk" points="389.9,550.7 498.2,585.6"/>
<ellipse class="l" cx="513.8" cy="610.5" rx="6" ry="3.5"/>
<polygon class="f" points="512.4,592 516.7,592 516.7,620 512.4,620"/>
<rect class="w" x="509" y="583" width="10" height="10"/>
<line class="lt" x1="509" y1="588" x2="519" y2="588"/>
<line class="lt" x1="553.7" y1="577.8" x2="518.1" y2="591.3"/>
<line class="lt" x1="536.6" y1="602" x2="519.5" y2="609.8"/>
<line class="lt" x1="318.8" y1="632.5" x2="360" y2="646"/>
<line class="lt" x1="355" y1="536" x2="387.5" y2="545"/>
<polygon class="w" points="434.4,487 457.6,474.5 473.6,462.1 490.3,463.3 553.2,487 553.2,547.6 505.7,573.7 435.6,545.2"/>
<polyline class="l" points="434.4,487 435.6,545.2 504.5,573.7 553.2,547.6 553.2,487"/>
<polyline class="l" points="434.4,487 457.6,474.5"/>
<polyline class="l" points="490.3,463.3 527.7,476.3"/>
<polyline class="l" points="541.3,482.3 553.2,487"/>
<polyline class="l" points="434.4,487 435.6,491.8 505.7,522.6 553.2,491.8"/>
<polyline class="l" points="435.6,496.5 505.7,523.2 553.2,496.5"/>
<polyline class="lk" points="505.7,523.2 505.7,573.7"/>
<polygon class="l" points="442.8,485.8 457,475.7 525.9,502.4 506.9,515.5"/>
<polygon class="f" points="517.6,504.8 525.9,502.4 525.9,511.9 518.8,513.1"/>
<ellipse class="l" cx="457.6" cy="484" rx="4.5" ry="2.6"/>
<ellipse class="l" cx="467.7" cy="488.2" rx="4.5" ry="2.6"/>
<ellipse class="l" cx="480.2" cy="492.4" rx="4.5" ry="2.6"/>
<ellipse class="l" cx="493.2" cy="497.7" rx="4.5" ry="2.6"/>
<ellipse class="l" cx="506.9" cy="503" rx="4.5" ry="2.6"/>
<rect class="w" x="527.7" y="469.2" width="13.6" height="25" rx="6.5"/>
<ellipse class="f" cx="534.2" cy="476.3" rx="2.5" ry="2"/>
<line class="lt" x1="528" y1="486" x2="541" y2="486"/>
<polygon class="w" points="473,464.4 483.1,459.7 484.9,452.6 490.3,453.2 490.3,471 473.6,471"/>
<polyline class="l" points="484.9,452.6 484.9,469.2"/>
<rect class="w" x="417.8" y="451.4" width="7.7" height="14.2"/>
<line class="lt" x1="418" y1="455" x2="425" y2="455"/>
<line class="lt" x1="418" y1="462" x2="425" y2="462"/>
<rect class="f" x="425.5" y="453.2" width="26.2" height="8.8"/>
<line class="lt" x1="451.7" y1="457.9" x2="535" y2="457.9" stroke-dasharray="10 3 2 3"/>
<rect class="f" x="509.3" y="451.4" width="8.3" height="13.6"/>
<line class="lt" style="stroke:#fff" x1="513.5" y1="453" x2="513.5" y2="463"/>
<line class="lt" x1="470" y1="431" x2="514" y2="451.4"/>
<line class="lt" x1="388.8" y1="445.5" x2="417.5" y2="455"/>
<line class="lt" x1="397.5" y1="495" x2="433.8" y2="506.2"/>
<polygon class="w" points="559.2,384.3 568.5,377.1 590.6,389.2 575.3,397.1"/>
<polygon class="w" points="559.2,384.3 575.3,397.1 575.3,411.5 562.1,402.8 559,395"/>
<polygon class="w" points="575.3,397.1 590.6,389.2 590.6,405.6 575.6,411.7"/>
<polyline class="lt" points="562,385 569.5,379.5 588,389.5"/>
<polygon class="w" points="562.1,392.1 551.8,398.5 550.5,402 553.5,405.5 562.1,399.5"/>
<ellipse class="l" cx="552" cy="402" rx="2.6" ry="3.6" transform="rotate(30 552 402)"/>
<line class="lt" x1="547.5" y1="367.5" x2="563" y2="380"/>
<path class="lt" d="M721.6,433.6 C723.4,435.1 728.8,439.4 732.7,442.7 C736.5,446 738.5,450.1 744.4,453.2 C750.3,456.2 760.5,458.4 767.9,461 C775.3,463.6 783.8,466 788.8,468.8 C793.8,471.7 795.4,475.4 798,478 C800.6,480.6 803.4,483.4 804.5,484.5"/>
<path class="lt" d="M730,433.6 C731.4,434.6 735.3,437.9 737.9,440.1 C740.5,442.3 740.7,444.2 745.7,446.6 C750.7,449 760.5,451.6 767.9,454.5 C775.3,457.3 784.7,460.6 790.1,463.6 C795.6,466.7 797.9,469.5 800.6,472.7 C803.3,476 805.5,481.5 806.5,483.2"/>
<path class="lt" d="M869.8,432.3 C870.7,433.3 873.2,436.5 875,438.8 C876.9,441.1 880.3,444.1 880.9,446 C881.6,447.8 883,448.7 879,449.9 C874.9,451.1 868.5,451.6 856.8,453.2 C845,454.7 817.4,457.3 808.4,459 C799.5,460.8 804.2,461.5 803.2,463.6 C802.2,465.7 802.5,468.2 802.5,471.4 C802.5,474.7 803.1,481.2 803.2,483.2"/>
<path class="lt" d="M880.3,432.3 C880.9,433.3 882.8,436.4 884.2,438.8 C885.6,441.2 888.5,444.4 888.8,446.6 C889,448.8 890.8,450.3 885.5,451.8 C880.2,453.4 869,453.9 856.8,455.8 C844.6,457.6 820.5,461 812.3,463 C804.2,464.9 808.8,465.7 807.8,467.5 C806.8,469.4 806.7,471.4 806.5,474.1 C806.2,476.7 806.5,481.7 806.5,483.2"/>
<polygon class="f" points="807.1,483.2 813.7,484.5 813.7,505.4 807.1,505.4"/>
<polygon class="w" points="803.2,507.4 809.7,504.8 816.9,513.2 815,531.5 808.4,532.8 801.2,526.3 800.6,510.6" style="stroke-width:3"/>
<polyline class="lt" points="804.5,509.3 812.3,514.6 811,527.6"/>
<ellipse class="w" cx="729.4" cy="421.8" rx="9.5" ry="12.5" transform="rotate(-25 729.4 421.8)"/>
<ellipse class="l" cx="727.9" cy="424.3" rx="6.5" ry="8" transform="rotate(-25 727.9 424.3)"/>
<ellipse class="w" cx="877.7" cy="419.2" rx="9.5" ry="12.5" transform="rotate(-25 877.7 419.2)"/>
<ellipse class="l" cx="876.2" cy="421.7" rx="6.5" ry="8" transform="rotate(-25 876.2 421.7)"/>
<ellipse class="w" cx="752.9" cy="405.5" rx="7.2" ry="6.5" transform="rotate(-20 752.9 405.5)"/>
<ellipse class="w" cx="745.1" cy="410.5" rx="4.5" ry="5" transform="rotate(-20 745.1 410.5)"/>
<ellipse class="f" cx="743.1" cy="412" rx="3.6" ry="4" transform="rotate(-20 743.1 412)"/>
<ellipse class="w" cx="900.5" cy="404.8" rx="7.2" ry="6.5" transform="rotate(-20 900.5 404.8)"/>
<ellipse class="w" cx="892.1" cy="410.5" rx="4.5" ry="5" transform="rotate(-20 892.1 410.5)"/>
<ellipse class="f" cx="890.1" cy="412" rx="3.6" ry="4" transform="rotate(-20 890.1 412)"/>
<polyline class="lt" points="761.4,400.9 868.5,380 893.3,396.3"/>
<polyline class="lt" points="743.1,424.4 791.4,436.8 867.2,419.8"/>
<line class="lt" x1="899.9" y1="458.4" x2="888.1" y2="450.5"/>
<polygon class="f" points="849,548 884.7,531.4 894.2,535.7 901.8,533.3 904.6,538.1 904.1,540.4 896.5,545.7 903.7,552.8 884.2,564.2 879,562.8 861.4,573.2 849,566.6 849,561.8 852.8,559.4 850.9,556.1 849,553.3"/>
<polygon class="wt" points="852.8,548.5 862.3,543.8 872.3,549.5 862.3,554.2"/>
<polygon class="wt" points="864.7,543.3 874.2,538.5 882.8,543.8 874.2,549.5"/>
<polygon class="wt" points="875.2,537.6 884.7,532.8 894.6,539 884.2,543.8"/>
<polygon class="wt" points="862.8,555.2 872.3,550.4 872.3,567 862.8,571.3"/>
<polygon class="wt" points="895.1,536.2 900.8,533.8 904.1,538.5 903.2,540.4 897,543.8"/>
<polygon class="wt" points="876.1,558 880.4,553.3 885.6,552.8 881.8,560.9"/>
<polygon class="wt" points="884.2,560.4 888.9,550.9 894.2,551.4 900.8,552.8"/>
<polygon class="wt" points="889.9,546.6 895.1,543.8 896.5,548.5 893.7,550.9"/>
<line class="lt" x1="926" y1="527.5" x2="911" y2="540"/>
<polygon class="w" points="672.1,703.7 689.1,693.7 703.6,700.8 716.9,710.3 712.8,714.1 712.8,726.1 700.3,736.5 675,718.2 675,706.6"/>
<polygon class="l" points="672.5,703.3 689.1,694.1 716.5,710.3 700.3,718.7"/>
<polygon class="lt" points="675.4,703.3 689.1,695.4 713.6,709.9 700.3,716.6"/>
<polyline class="lk" points="675.4,707 700.3,719.5 712.8,714.5"/>
<polyline class="l" points="675.4,707 675.4,718.2 700.3,733.2 712.8,726.1 712.8,714.5"/>
<polyline class="l" points="700.3,719.5 700.3,735.7"/>
<polygon class="wt" points="682.4,702.4 691.6,696.6 698.2,700.4 706.1,705.8 698.2,711.2 687,706.2"/>
<polyline class="lt" points="691.6,706.6 698.2,700.8"/>
<polyline class="lk" points="680,721.6 689.1,727.8"/>
<polyline class="lk" points="691.6,729.9 699.5,734.9"/>
<line class="lt" x1="707.4" y1="680" x2="690.8" y2="693.7"/>
<path class="w" d="M1145.4,528 C1145.8,524.9 1146.9,518.6 1148.5,515.6 C1150.2,512.6 1152.5,511.4 1155.5,510.2 C1158.4,509 1162.8,508.5 1166.3,508.6 C1169.8,508.8 1173.6,509 1176.3,511 C1179,512.9 1181.4,517.1 1182.5,520.2 C1183.7,523.3 1183.8,526.5 1183.3,529.5 C1182.8,532.5 1182.3,535.2 1179.4,538 C1176.6,540.8 1170.4,545.8 1166.3,546.5 C1162.2,547.1 1158.1,543.9 1154.7,541.9 C1151.4,539.8 1147.8,536.4 1146.2,534.1 C1144.7,531.8 1145.1,531 1145.4,528Z"/>
<ellipse class="f" cx="1182.5" cy="517" rx="5" ry="6.5" transform="rotate(-30 1182.5 517)"/>
<path class="lt" d="M1162.4,511 C1163.7,512.1 1168.1,514.8 1170.2,517.9 C1172.2,521 1173.9,526.3 1174.8,529.5 C1175.7,532.7 1175.4,535.9 1175.6,537.2"/>
<ellipse class="w" cx="1158.5" cy="531.5" rx="12.5" ry="10" transform="rotate(-20 1158.5 531.5)"/>
<ellipse class="f" cx="1153.2" cy="524.1" rx="3.5" ry="2.2" transform="rotate(-20 1153.2 524.1)"/>
<ellipse class="f" cx="1162.4" cy="524.1" rx="3.5" ry="2.2" transform="rotate(-20 1162.4 524.1)"/>
<ellipse class="f" cx="1155.5" cy="531.8" rx="3.5" ry="2.2" transform="rotate(-20 1155.5 531.8)"/>
<ellipse class="f" cx="1164.7" cy="531.8" rx="3.5" ry="2.2" transform="rotate(-20 1164.7 531.8)"/>
<line class="lt" x1="1188.7" y1="460" x2="1168.6" y2="506.3"/>
<line class="lt" x1="1201" y1="430" x2="1188.7" y2="460"/>
<polygon class="w" points="1218.4,483.2 1239.7,470.8 1242,474.7 1242,497.8 1221.1,507.9 1218.4,504.8"/>
<polyline class="lk" points="1218.4,483.2 1218.4,504.8"/>
<polyline class="lt" points="1221.1,485.5 1239.7,473.1"/>
<polygon class="f" points="1207.2,498.6 1214.9,494.7 1218,490.9 1218,500.2 1211.1,504 1207.2,503.2"/>
<ellipse class="f" cx="1238.1" cy="477.8" rx="2" ry="3"/>
<ellipse class="f" cx="1238.1" cy="486.3" rx="2" ry="3"/>
<ellipse class="f" cx="1238.1" cy="494.7" rx="2" ry="3"/>
<line class="lt" x1="1239.7" y1="460" x2="1234.2" y2="470"/>
<line class="lt" x1="1266" y1="395" x2="1239.7" y2="460"/>
<path class="lc" d="M1310.8,491 C1308.5,492.5 1299.9,496.8 1296.7,500 C1293.5,503.2 1291.7,506.7 1291.5,510.3 C1291.3,513.9 1291.1,515.8 1295.4,521.8 C1299.7,527.8 1308.7,538.1 1317.2,546.2 C1325.8,554.3 1338,563.7 1346.7,570.5 C1355.5,577.3 1365,582.9 1369.7,587.2 C1374.4,591.5 1373.6,591.1 1374.9,596.2 C1376.2,601.3 1377,610.1 1377.4,618 C1377.8,625.9 1378.2,637.4 1377.4,643.6 C1376.6,649.8 1374.7,653.4 1372.3,655.1 C1369.9,656.8 1366.5,655.3 1363.3,653.8 C1360.1,652.3 1354.8,647.5 1353.1,646.2"/>
<path class="lt" d="M1351.8,475.6 C1353.7,474.5 1360.9,471.6 1363.3,469.2 C1365.7,466.8 1364.4,464.1 1365.9,461.5 C1367.4,458.9 1367.4,457.6 1372.3,453.8 C1377.2,450 1391.6,441.1 1395.4,438.5"/>
<polygon class="w" points="1396.7,429.5 1422.3,418 1426.8,423.1 1403.1,441 1398,438" style="stroke-width:2.2"/>
<line class="lt" x1="1401" y1="433" x2="1424" y2="421"/>
<line class="lt" x1="1402" y1="430" x2="1403" y2="440"/>
<path class="w" d="M1323.6,482 C1324.4,480.3 1326.1,474.1 1328.7,471.8 C1331.3,469.5 1335.6,468 1339,468 C1342.4,468 1347.1,470.5 1349.2,471.8 C1351.3,473.1 1352.2,473.9 1351.8,475.6 C1351.4,477.3 1350.8,479.9 1346.7,482 C1342.6,484.1 1331.2,488.5 1327.4,488.5 C1323.6,488.5 1324.2,483.1 1323.6,482"/>
<ellipse class="l" cx="1339.6" cy="475.6" rx="5" ry="3"/>
<polygon class="w" points="1310.8,488.5 1324.9,482 1327.4,488.5 1315.9,494.2"/>
<path class="w" d="M1314.6,630.8 C1315.9,629.9 1319.1,626.2 1322.3,625.6 C1325.5,625 1330.4,625.2 1333.8,626.9 C1337.2,628.6 1341.9,633.1 1342.8,635.9 C1343.7,638.7 1343,643.2 1339,643.6 C1335,644 1322.6,640.6 1318.5,638.5 C1314.4,636.4 1315.2,632.1 1314.6,630.8"/>
<ellipse class="l" cx="1326.8" cy="630.8" rx="5" ry="3"/>
<polygon class="w" points="1339,636 1354.4,643.6 1349.2,650 1336,643"/>
<line class="lt" x1="1294" y1="609" x2="1375" y2="622.5"/>
<path class="lc" d="M1321.4,810 C1324.3,812.8 1334.5,820.4 1339,826.7 C1343.5,832.9 1348.7,837.1 1348.4,847.5 C1348,857.9 1340.9,873.4 1337,889 C1333,904.6 1327.4,926.8 1324.5,941 C1321.5,955.2 1318.6,965.9 1319.3,974.3 C1320,982.6 1323.6,987.8 1328.6,990.9 C1333.7,994 1341.1,994.7 1349.4,993 C1357.7,991.2 1369.5,986.4 1378.5,980.5 C1387.5,974.6 1399.3,961.4 1403.5,957.6"/>
<path class="w" d="M1292.3,799.7 C1293.2,799 1295.5,796.2 1297.5,795.5 C1299.5,794.8 1301.9,794.8 1304,795.5 C1306.1,796.2 1309.3,798.2 1310,800 C1310.7,801.8 1310.3,805.2 1307.9,806 C1305.5,806.8 1298,805.9 1295.4,804.9 C1292.8,803.9 1292.8,800.6 1292.3,799.7"/>
<ellipse class="l" cx="1300.6" cy="799.7" rx="3.5" ry="2"/>
<polygon class="w" points="1307,801 1320.3,805 1320.3,811.1 1305,806"/>
<path class="w" d="M1411.8,950 C1412.7,949.4 1414.9,947.3 1417,946.5 C1419.1,945.7 1422,944.7 1424.3,945.2 C1426.5,945.7 1430.2,947.8 1430.5,949.3 C1430.8,950.8 1429,953.5 1426.3,954.5 C1423.5,955.5 1416.4,955.8 1414,955 C1411.6,954.2 1412.2,950.8 1411.8,950"/>
<ellipse class="l" cx="1421.1" cy="949.3" rx="3.5" ry="2"/>
<polygon class="w" points="1403.5,955.6 1413,949 1415,955 1406,961"/>
<line class="lt" x1="1300.6" y1="896.3" x2="1332.8" y2="884.9"/>
<polygon class="w" points="1236.3,728.8 1236.3,736.6 1245.5,739.4 1254.6,736.6 1254.6,728.8"/>
<ellipse class="w" cx="1245.5" cy="728.8" rx="8.9" ry="5"/>
<ellipse class="f" cx="1245.5" cy="728.8" rx="4.4" ry="2.4"/>
<line class="lt" x1="1252.5" y1="720" x2="1320" y2="699"/>
<line class="lt" x1="1244.6" y1="740" x2="1244.6" y2="769" stroke-dasharray="1.2 1.3"/>
<polygon class="w" points="1201.1,847.4 1206.6,835.5 1224.9,834.6 1251.4,819 1260.6,819 1294.5,840.1 1294.5,848.4 1274.3,868.5 1275.2,882.2 1271.6,883.2 1260.6,875.8 1252.3,879.5 1231.3,878.6 1201.1,861.2"/>
<polyline class="l" points="1206.6,835.5 1238.6,840.1 1210.2,857.5 1206.6,835.5"/>
<polyline class="l" points="1251.4,821.8 1224.9,835.5"/>
<polyline class="l" points="1260.6,821.8 1293.6,842.9"/>
<polyline class="lt" points="1260.6,819 1260.6,822.7 1251.4,822.7 1251.4,819"/>
<polyline class="lt" points="1201.1,852 1210.2,857.5"/>
<polyline class="l" points="1202.9,862.1 1231.3,878.6 1252.3,878.6 1294.5,849.3"/>
<polyline class="lt" points="1249.6,823.6 1239.5,840.1"/>
<polyline class="lt" points="1210.2,857.5 1249.6,872.2 1293.6,846.5"/>
<ellipse class="l" cx="1254.2" cy="848.8" rx="19.2" ry="12.4"/>
<ellipse class="l" cx="1254.2" cy="852.9" rx="10" ry="6.4"/>
<ellipse class="f" cx="1216.6" cy="841.5" rx="5.5" ry="2.8" transform="rotate(25 1216.6 841.5)"/>
<polyline class="lt" points="1260.6,875.8 1274.3,868.5"/>
<polygon class="w" points="1229.5,830 1229.5,825.5 1236.8,811.7 1266.1,806.2 1283.5,817.2 1284.4,831.9 1260.6,820.9 1251.4,820.9"/>
<polyline class="lt" points="1236.8,811.7 1240.4,825.5"/>
<polyline class="lt" points="1262.4,807.1 1262.4,819"/>
<polyline class="lt" points="1267,807.1 1267,821.8"/>
<polygon class="w" points="1236.3,785.2 1247.8,786.1 1247.8,809 1237.2,809.9"/>
<polygon class="w" points="1249.6,787 1257.8,789.7 1262.4,794.3 1262.4,807.1 1247.8,809 1247.8,786.1"/>
<polygon class="w" points="1257.8,789.7 1274.3,780.6 1274.3,811.7 1262.4,807.1 1262.4,794.3"/>
<polygon class="f" points="1273.4,781.5 1277.1,780.6 1278.9,812.6 1274.3,812.6"/>
<polygon class="w" points="1234.5,780.6 1238.6,777.8 1251.4,777.8 1254.6,781.5 1254.6,787.9 1234.5,787.9"/>
<polyline class="lt" points="1236.8,786.1 1239.5,780.6 1250.5,780.6 1252.3,786.1"/>
<polygon class="f" points="1238.2,773.3 1241.4,769.6 1247.8,769.6 1251,773.3 1251,778.3 1238.2,778.3"/>
<polygon class="f" points="1205.2,806.2 1213,806.2 1212.5,825.5 1208.8,826.8 1205.6,825.5"/>
<ellipse class="w" cx="1208.6" cy="799.4" rx="6.2" ry="4.1"/>
<polyline class="lt" points="1203.4,801.6 1203.8,806.2 1214.8,806.2 1215.3,801.6"/>
<line class="lt" x1="1169.6" y1="826.7" x2="1201.8" y2="803.8"/>
<line class="lt" x1="1295.4" y1="745.6" x2="1276.7" y2="783"/>
<polygon class="w" points="1361.9,877.6 1383.7,876.6 1407.6,866.2 1413.9,872.4 1412.8,876.6 1383.7,893.2 1383.7,899.4 1372.3,901.5 1362.9,899.4"/>
<ellipse class="l" cx="1372.7" cy="877.6" rx="10.9" ry="6"/>
<polyline class="l" points="1362.9,877.6 1362.9,898.4"/>
<ellipse class="lk" cx="1409.7" cy="871.5" rx="3.5" ry="6" transform="rotate(-20 1409.7 871.5)"/>
<line class="lt" x1="1396.2" y1="812" x2="1402.4" y2="860"/>
<path class="lc" d="M327.5,815 C331.7,819.2 347.9,832.9 352.5,840 C357.1,847.1 356.7,849.2 355,857.5 C353.3,865.8 346.2,877.9 342.5,890 C338.8,902.1 335.2,916.7 332.5,930 C329.8,943.3 325.8,958.8 326.2,970 C326.7,981.2 331,992.1 335,997.5 C339,1002.9 343.3,1002.5 350,1002.5 C356.7,1002.5 366.7,1001.7 375,997.5 C383.3,993.3 393.8,983.3 400,977.5 C406.2,971.7 410.4,965 412.5,962.5"/>
<path class="w" d="M299,805.1 C299.7,804.4 300.7,801.4 303.1,800.6 C305.5,799.8 310.5,798.9 313.2,800.1 C315.9,801.4 318.9,806.2 319.2,808.1 C319.5,810 318,811.4 315.2,811.7 C312.4,812.1 304.8,811.3 302.1,810.2 C299.4,809.1 299.5,806 299,805.1"/>
<ellipse class="l" cx="308.6" cy="805.1" rx="4" ry="2.2"/>
<polygon class="w" points="316,810 322,808 328,813 324,817"/>
<path class="w" d="M421,951.2 C422.3,950.7 426.3,948.4 429,948.2 C431.7,948 435.4,949.2 437.1,950.2 C438.8,951.2 439.8,952.7 439.1,954.2 C438.4,955.7 436.5,958.1 433.1,959.3 C429.8,960.5 421,962.6 419,961.3 C417,959.9 420.7,952.9 421,951.2"/>
<ellipse class="l" cx="429.5" cy="955.2" rx="4" ry="2.2"/>
<polygon class="w" points="410,960 419,956 421,962 412,965"/>
<line class="lt" x1="307.5" y1="898.8" x2="341" y2="888.8"/>
<line class="lt" x1="428.8" y1="902.5" x2="428.8" y2="912.5"/>
<ellipse class="w" cx="428.5" cy="918.5" rx="7.5" ry="5"/>
<rect class="w" x="424" y="913" width="9" height="6"/>
<rect class="f" x="425" y="925" width="7.5" height="16"/>
<line class="lt" x1="428.8" y1="941" x2="428.8" y2="947"/>
<polygon class="f" points="493.3,827.9 510.8,817.5 523.7,825.8 523.7,829.1 528.6,831.6 528.2,834.1 520.7,836.6 520.7,839.1 517.4,840.3 514.1,840.3 509.9,838.3 505.8,838.3 497.5,834.1 494.1,832.4"/>
<polygon class="wt" points="496.6,827.9 510.8,819.1 520.7,825.4 505.8,834.1"/>
<polygon class="wt" points="511.6,834.1 516.6,835.8 514.9,838.3"/>
<polygon class="wt" points="519.5,829.9 521.6,829.1 524.5,832 522.4,833.3"/>
<line class="lt" x1="485" y1="844.9" x2="500.8" y2="834.9"/>
<line class="lt" x1="475" y1="850" x2="502.5" y2="835"/>
<polygon class="f" points="526.1,848.2 534.5,841.2 546.9,853.6 539,861.9" style="stroke-width:2;stroke-linejoin:round"/>
<polygon class="wt" points="530.7,849.5 534,846.6 538.2,850.7 535.7,854"/>
<polygon class="w" points="599.1,1101.3 606.5,1096 620.8,1101 621.9,1117.5 624.9,1126.3 624.9,1132.9 617.5,1136.7 614.2,1143 608.1,1143 598.2,1134 599.1,1129.8" style="stroke-width:2.8"/>
<polygon class="f" points="599.1,1101.3 606.5,1096 620.8,1101 620.2,1106.5 614.7,1109.2 609.2,1114.2 601,1112.8 599.1,1112"/>
<polygon class="wt" points="602.1,1101.5 602.9,1101.5 602.9,1103.2 602.1,1103.2"/>
<polygon class="wt" points="605.1,1102.1 607,1102.9 607,1109 605.1,1109"/>
<polygon class="wt" points="609,1109 619.9,1105.7 619.9,1110.9 613.9,1114.7 609,1114.2"/>
<polyline class="lk" points="612,1117.5 612,1131.2"/>
<polyline class="lk" points="616.1,1116.9 618.3,1128.5"/>
<polyline class="l" points="601,1125.7 602.9,1125.2 603.7,1129.8 607,1130.7 607.3,1128.5 609.2,1129 609.8,1134"/>
<polygon class="f" points="598.2,1130.7 614.7,1132.9 617.5,1136.7 614.2,1143 608.1,1143 598.2,1134"/>
<polygon class="wt" points="600.2,1131.2 601.5,1130.1 605.4,1134 614.2,1136.7 614.2,1137.8 609.8,1137.8 600.4,1132.3"/>
<polyline class="lk" points="621,1118.3 623,1121.6 623.8,1126.5 623.5,1129.8 620.8,1130.7"/>
<line class="lt" x1="632.5" y1="1091" x2="620" y2="1102.5"/>
<path class="lt" d="M892.5,1461.2 C897.1,1461.5 912.5,1464.4 920,1462.5 C927.5,1460.6 932.9,1454.2 937.5,1450 C942.1,1445.8 943.8,1440 947.5,1437.5 C951.2,1435 956.2,1434.2 960,1435 C963.8,1435.8 968.3,1441.2 970,1442.5"/>
<polyline class="l" points="970,1442.5 1035,1512.5"/>
<g transform="translate(1046,1533) rotate(-33)">
<rect class="w" x="-16" y="-17" width="32" height="28"/>
<rect class="w" x="-9" y="11" width="20" height="14"/>
<line class="lk" x1="1" y1="11" x2="1" y2="25"/>
<line class="lt" x1="5" y1="11" x2="5" y2="25"/>
<polyline class="l" points="-22,-24 -20,-22 -26,20 -29,22"/>
<polyline class="lt" points="-19,-24 -24,-24 -30,18"/>
<polyline class="l" points="22,-24 20,-22 26,20 29,22"/>
<polyline class="lt" points="19,-24 24,-24 30,18"/>
</g>
<polygon class="w" points="735.2,1619 736.7,1614.7 740.9,1609.5 750,1608.1 752.8,1605.2 765.6,1605.5 782.3,1611.4 793.7,1620 794.1,1624.7 799.8,1628.5 800.8,1640.4 795.6,1644.2 784.6,1644.2 770.4,1641.8 768.5,1644.2 760.4,1644.2 748.1,1635.2 735.2,1622.3"/>
<path class="l" d="M736.7,1614.7 C738.2,1615.9 741.2,1619.9 745.7,1621.9 C750.1,1623.8 757.9,1625.5 763.3,1626.6 C768.6,1627.7 772.5,1628.7 777.5,1628.5 C782.5,1628.3 790.6,1626.1 793.2,1625.7"/>
<path class="lk" d="M736.2,1619 C737.9,1620.1 741.7,1623.4 746.6,1625.7 C751.5,1627.9 759.7,1630.9 765.6,1632.3 C771.6,1633.7 776.6,1634.4 782.3,1634.2 C787.9,1634 796.5,1631.4 799.4,1630.9"/>
<path class="l" d="M735.7,1621.9 C737.9,1623.3 743.6,1627.9 749,1630.4 C754.4,1632.9 762.1,1635.6 768,1637.1 C773.9,1638.6 779.2,1639.4 784.6,1639.4 C790,1639.4 797.7,1637.5 800.3,1637.1"/>
<path class="lk" d="M741.9,1628.5 C743.9,1629.6 748.6,1633.1 753.8,1635.2 C758.9,1637.2 765,1639.9 772.8,1640.9 C780.5,1641.8 795.7,1640.9 800.3,1640.9"/>
<ellipse class="w" cx="771.8" cy="1612.3" rx="21.3" ry="7" transform="rotate(17 771.8 1612.3)"/>
<ellipse class="lt" cx="773.5" cy="1611.2" rx="16.5" ry="5" transform="rotate(17 773.5 1611.2)"/>
<polyline class="lt" points="749,1635.2 750,1639 756.6,1642.8 760.4,1644.2"/>
<polyline class="lt" points="762.8,1639 762.8,1644.2"/>
<polygon class="w" points="1155.2,1471.3 1155.2,1460.3 1170.1,1460.3 1170.1,1471.3"/>
<rect class="wt" x="1158.6" y="1464.2" width="8" height="7"/>
<rect class="w" x="1152.3" y="1471.3" width="21.2" height="23.6"/>
<polyline class="lt" points="1161.4,1494.9 1161.4,1485.3 1165.8,1485.3 1165.8,1494.9"/>
<line class="lk" x1="1151" y1="1495" x2="1175" y2="1495"/>
<line class="l" x1="1162.9" y1="1495" x2="1162.9" y2="1501.2"/>
<rect class="w" x="1155.2" y="1501.2" width="15.4" height="12.9"/>
<line class="lt" x1="1159.5" y1="1503.2" x2="1159.5" y2="1512.1"/>
<line class="lt" x1="1166" y1="1503.2" x2="1166" y2="1512.1"/>
<rect class="w" x="1155.2" y="1608.8" width="15.4" height="12.5"/>
<line class="lt" x1="1159.5" y1="1610.8" x2="1159.5" y2="1619.3"/>
<line class="lt" x1="1166" y1="1610.8" x2="1166" y2="1619.3"/>
<line class="lt" x1="1158.6" y1="1514.1" x2="1158.6" y2="1608.8"/>
<line class="l" x1="1166.7" y1="1514.1" x2="1166.7" y2="1608.8"/>
<line class="lk" x1="1146" y1="1539" x2="1171" y2="1539"/>
<polygon class="f" points="1142,1539 1148,1535 1148,1543"/>
<line class="l" x1="1162.9" y1="1621.3" x2="1162.9" y2="1629.5"/>
<rect class="w" x="1150.4" y="1629.5" width="24" height="29.3" style="stroke-width:2"/>
<polygon class="l" points="1147.5,1650.2 1150.4,1647.3 1150.4,1658.8"/>
<polygon class="l" points="1178.3,1650.2 1174.4,1647.3 1174.4,1658.8"/>
<polygon class="f" points="1156.2,1642.5 1161.9,1639.6 1165.8,1642.5 1165.8,1651.2 1160,1651.2 1160,1657.9 1156.2,1657.9"/>
<line class="lt" x1="1176.3" y1="1482.9" x2="1205" y2="1469"/>
<polygon class="w" points="1231.2,1745.2 1238.1,1742.2 1244.6,1738.3 1251.1,1737.3 1252.1,1730.5 1261.9,1730.5 1264.9,1735.7 1272.4,1741.2 1273.7,1743.5 1273.7,1766.4 1270.8,1769 1253.8,1778.2 1240.4,1772.3 1231.2,1770.7"/>
<polygon class="l" points="1232.2,1746.1 1241.3,1743.5 1252.1,1738.3 1272.4,1742.9 1254.4,1755.6"/>
<polyline class="l" points="1253.8,1755.9 1253.8,1778.2"/>
<ellipse class="w" cx="1258.2" cy="1734" rx="6" ry="3.5"/>
<polyline class="l" points="1252.1,1734.1 1252.1,1743.5"/>
<polyline class="l" points="1264.2,1734.1 1264.2,1743.5"/>
<path class="l" d="M1252.1,1743.5 C1253.1,1744 1256.2,1746.1 1258.2,1746.1 C1260.2,1746.1 1263.2,1744 1264.2,1743.5"/>
<polygon class="f" points="1229.9,1762.5 1239.4,1759.2 1247.9,1763.5 1249.8,1769 1244.6,1773.9 1240.4,1776.2 1237.1,1772.3 1231.5,1771"/>
<polygon class="f" points="1259.3,1752.7 1264.2,1751 1264.5,1764.1 1259.6,1765.8"/>
<rect class="wt" x="1260.5" y="1753" width="3" height="9"/>
<polygon class="f" points="1242,1740.3 1247.9,1742.2 1243.3,1745.5"/>
<line class="lt" x1="1232.8" y1="1722" x2="1244.6" y2="1738.3"/>
<line class="l" x1="376.5" y1="1329" x2="495.7" y2="1329"/>
<rect class="w" x="358" y="1322" width="18.5" height="14"/>
<line class="lt" x1="367" y1="1322" x2="367" y2="1336"/>
<line class="lt" x1="358" y1="1329" x2="376.5" y2="1329"/>
<rect class="w" x="495.7" y="1322" width="12.8" height="14"/>
<line class="lt" x1="495.7" y1="1329" x2="508.5" y2="1329"/>
<path class="l" d="M437.2,1329.6 C435.9,1330.7 431.3,1332.9 429.3,1336.2 C427.3,1339.5 425.5,1344.9 425.4,1349.2 C425.3,1353.5 426.3,1358.5 428.7,1362.3 C431.1,1366.1 429.2,1364.4 440,1372 C450.8,1379.6 484.4,1402 493.3,1408"/>
<ellipse class="f" cx="437.5" cy="1329" rx="2.5" ry="2.5"/>
<g transform="translate(499,1413) rotate(-35)">
<rect class="w" x="-8" y="-8" width="16" height="14"/>
<line class="lt" x1="-8" y1="-1" x2="8" y2="-1"/>
</g>
<line class="lt" x1="435" y1="1316" x2="453" y2="1325"/>
<polygon class="w" points="379.4,1412.3 392.3,1403.8 397,1403.8 402.7,1410 406.5,1409 406.5,1415.2 403.2,1417.1 385.6,1428 382.8,1435.1 375.6,1437.5 369.5,1435.1 363.3,1423.3 366.6,1413.8 376.1,1412.3"/>
<ellipse class="l" cx="374.4" cy="1424.9" rx="11" ry="12.8" transform="rotate(-30 374.4 1424.9)"/>
<ellipse class="l" cx="371.5" cy="1427" rx="7.5" ry="9.5" transform="rotate(-30 371.5 1427)"/>
<path class="lt" d="M373.3,1414.2 C374.4,1415.1 378.6,1416.8 380.4,1419.5 C382.2,1422.1 383.5,1428.6 384.2,1430.4"/>
<polygon class="f" points="379.4,1412.8 390.4,1406.2 391.8,1409.5 380.4,1414.7"/>
<line class="lt" x1="355.2" y1="1404.3" x2="368" y2="1412.8"/>
<polygon class="w" points="400,1637.5 452.5,1607.5 475,1610 490,1605 496.2,1610 497.5,1642.5 495,1650 420,1688.8 412.5,1680 405,1670 402.5,1642.5"/>
<polyline class="l" points="412.5,1647.5 490,1605"/>
<path class="l" d="M410,1647.5 C410.4,1651.2 410.8,1663.1 412.5,1670 C414.2,1676.9 418.8,1685.6 420,1688.8"/>
<path class="l" d="M490,1605 C491,1607.5 495.4,1612.5 496.2,1620 C497.1,1627.5 495.2,1645 495,1650"/>
<polygon class="l" points="436.2,1647.5 478.8,1625 478.8,1652.5 436.2,1673.8"/>
<polyline class="lt" points="400,1637.5 415,1640 420,1645"/>
<polyline class="lt" points="452.5,1607.5 475,1610 430,1637.5"/>
<polyline class="lk" points="405,1645 405,1670"/>
<line class="lt" x1="396" y1="1682.5" x2="409" y2="1671"/>
<line class="lt" x1="847.5" y1="1212.5" x2="866" y2="1224"/>
<line class="lt" x1="955" y1="816" x2="986.2" y2="835"/>
<line class="lt" x1="731" y1="1590" x2="744" y2="1607.5"/>
</svg>
</body></html>
